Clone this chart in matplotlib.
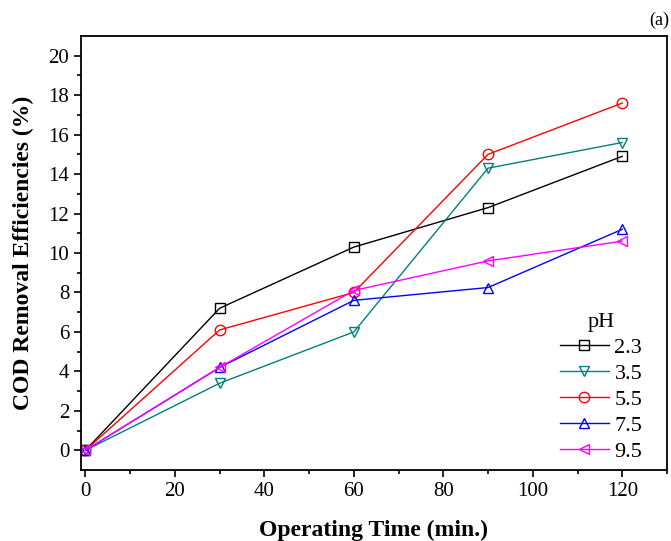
import matplotlib.pyplot as plt
import numpy as np

plt.rcParams['font.family'] = ['Liberation Serif', 'DejaVu Serif']

# Tempo de operação (min) e eficiências de remoção de DQO (%)
tempo = [0, 30, 60, 90, 120]
ph_labels = ['2.3', '3.5', '5.5', '7.5', '9.5']
cod_23 = [0, 7.2, 10.3, 12.3, 14.9]
cod_35 = [0, 3.4, 6.0, 14.3, 15.6]
cod_55 = [0, 6.1, 8.0, 15.0, 17.6]
cod_75 = [0, 4.2, 7.6, 8.25, 11.2]
cod_95 = [0, 4.2, 8.1, 9.6, 10.6]

series = [cod_23, cod_35, cod_55, cod_75, cod_95]
cores = ['black', '#008080', '#FF0000', '#0000FF', '#FF00FF']
marcadores = ['s', 'v', 'o', '^', '<']

fig = plt.figure(figsize=(6.71, 5.41), dpi=100)
ax = fig.add_axes([0.1207, 0.1312, 0.8733, 0.8023])

for y, cor, m, lab in zip(series, cores, marcadores, ph_labels):
    ax.plot(tempo, y, color=cor, marker=m, markersize=7.5, markerfacecolor='none',
            markeredgecolor=cor, linewidth=1, label=lab)

ax.set_xlim(-1, 130)
ax.set_ylim(-1, 21)
ax.set_xticks(np.arange(0, 121, 20))
ax.set_xticks(np.arange(10, 131, 20), minor=True)
ax.set_yticks(np.arange(0, 21, 2))
ax.set_yticks(np.arange(1, 21, 2), minor=True)
ax.tick_params(which='major', direction='out', length=5, width=1.2, labelsize=15)
ax.tick_params(which='minor', direction='out', length=3, width=1.2)
for s in ax.spines.values():
    s.set_linewidth(1.3)

ax.set_xlabel('Operating Time (min.)', fontsize=17, fontweight='bold', labelpad=14)
ax.set_ylabel('COD Removal Efficiencies (%)', fontsize=17, fontweight='bold', labelpad=10)

leg = ax.legend(title='pH', loc='lower right', frameon=False, fontsize=16,
                title_fontsize=16, handlelength=2.2, labelspacing=0.25,
                handletextpad=0.25, borderpad=0.0, borderaxespad=0.0,
                bbox_to_anchor=(0.958, 0.018))

fig.text(0.998, 0.963, '(a)', ha='right', va='center', fontsize=13)

plt.savefig('out.png', dpi=100)
